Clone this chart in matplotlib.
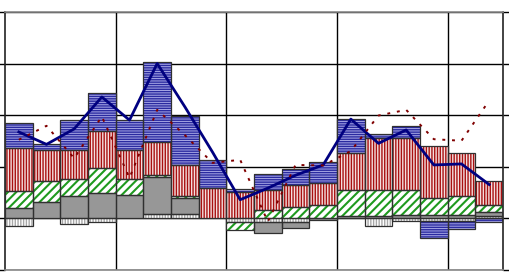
import numpy as np
import matplotlib
matplotlib.use("Agg")
import matplotlib.pyplot as plt

# stacked series, bottom-up
light = [-0.16, 0.0, -0.12, -0.07, 0.0, 0.08, 0.08, 0.0, -0.08,
         -0.08, -0.08, 0.0, 0.0, -0.15, -0.05, -0.05, -0.06, 0.03]
gray = [0.20, 0.31, 0.42, 0.48, 0.45, 0.71, 0.31, 0.0, 0.0,
        -0.21, -0.11, -0.03, 0.04, 0.03, 0.06, 0.06, 0.06, 0.09]
green = [0.33, 0.40, 0.34, 0.49, 0.31, 0.04, 0.04, 0.0, -0.15,
         0.16, 0.22, 0.26, 0.51, 0.52, 0.49, 0.33, 0.36, 0.14]
red = [0.83, 0.61, 0.56, 0.72, 0.56, 0.65, 0.60, 0.58, 0.50,
       0.39, 0.43, 0.42, 0.71, 1.00, 1.00, 1.00, 0.84, 0.45]
blue = [0.49, 0.11, 0.58, 0.74, 0.58, 1.55, 0.96, 0.55, 0.06,
        0.31, 0.31, 0.40, 0.66, 0.08, 0.23, -0.34, -0.15, -0.07]

total_line = [1.67, 1.43, 1.73, 2.35, 1.90, 3.00, 2.16, 1.28, 0.355,
              0.58, 0.83, 1.03, 1.92, 1.45, 1.71, 1.03, 1.05, 0.65]
dotted_line = [1.52, 1.79, 1.16, 1.97, 0.78, 2.10, 1.61, 1.07, 1.13,
               -0.07, 1.03, 1.02, 1.30, 1.99, 2.10, 1.53, 1.50, 2.28]

# (values, face, hatch colour, hatch, hatch width)
series = [
    (light, "white", "#a8a8a8", "||||||", 1.0),
    (gray, "#979797", "#979797", "", 1.0),
    (green, "white", "#1f9a1f", "////", 1.5),
    (red, "#f4dede", "#a81010", "||||||", 1.0),
    (blue, "#a8a8e6", "#2a2aa0", "-------", 1.0),
]

fig = plt.figure(figsize=(5.1, 2.75), dpi=100)
ax = fig.add_axes([5 / 510, 1 - 269.5 / 275, 498 / 510, 257.5 / 275])

x = np.arange(len(red))
pos = np.zeros(len(x))
neg = np.zeros(len(x))
for vals, face, hcol, hatch, hw in series:
    v = np.array(vals, dtype=float)
    bottom = np.where(v >= 0, pos, neg)
    with plt.rc_context({"hatch.linewidth": hw}):
        ax.bar(x, v, bottom=bottom, width=1.0, color=face, edgecolor=hcol,
               hatch=hatch, linewidth=0, zorder=2)
    nz = v != 0
    ax.bar(x[nz], v[nz], bottom=bottom[nz], width=1.0, fill=False,
           edgecolor="#303030", linewidth=0.9, zorder=3)
    pos = np.where(v >= 0, pos + v, pos)
    neg = np.where(v < 0, neg + v, neg)

ax.plot(x, total_line, color="#000080", linewidth=2.0, zorder=4)
ax.plot(x, dotted_line, color="#800000", linewidth=1.4,
        linestyle=(0, (1.5, 3.5)), zorder=4)

ax.set_xlim(-0.5, 17.5)
ax.set_ylim(-1, 4)
ax.set_yticks(np.arange(-1, 5))
ax.set_xticks([3.5, 7.5, 11.5, 15.5])
ax.set_yticklabels([])
ax.set_xticklabels([])
ax.grid(True, color="black", linewidth=1.0)
ax.set_axisbelow(True)
ax.tick_params(axis="y", direction="out", length=4, width=1.0,
               left=True, right=True, color="black")
ax.tick_params(axis="x", length=0)
for side in ["left", "right"]:
    ax.spines[side].set_color("#222222")
    ax.spines[side].set_linewidth(1.2)
for side in ["top", "bottom"]:
    ax.spines[side].set_color("#888888")
    ax.spines[side].set_linewidth(1.2)

fig.savefig("out.png", dpi=100)
